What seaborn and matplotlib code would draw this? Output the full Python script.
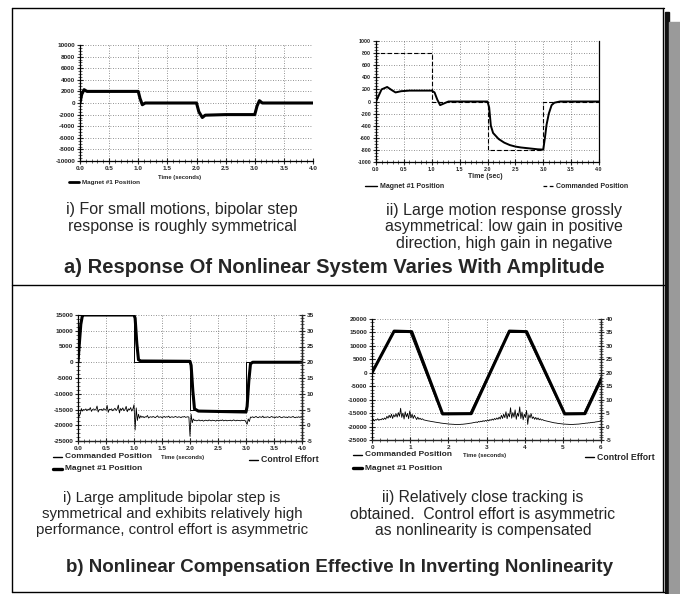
import numpy as np
import matplotlib
matplotlib.use("Agg")
import matplotlib.pyplot as plt
from matplotlib.lines import Line2D
from matplotlib.patches import Rectangle
from matplotlib.ticker import AutoMinorLocator
import seaborn as sns

sns.set_style("ticks")
plt.rcParams['font.family'] = ['Liberation Sans', 'DejaVu Sans']

W, H = 680, 594

# --- a) i) small bipolar step ---
t_small = [0, 0.03, 0.07, 0.12, 0.5, 1.0, 1.03, 1.07, 1.12, 1.5, 2.0, 2.04, 2.1, 2.15, 2.5, 3.0, 3.04, 3.08, 3.13, 3.5, 4.0]
pos_small = [0, 1500, 2300, 2000, 2000, 2000, 800, -300, 0, 0, 0, -1500, -2500, -2100, -2000, -2000, -500, 400, 0, 0, 0]

# --- a) ii) large motion ---
t_cmd_large = [0, 0, 1.0, 2.0, 3.0, 4.0]
cmd_large = [0, 800, 0, -800, 0, 0]
t_large = [0, 0.05, 0.1, 0.2, 0.28, 0.35, 0.45, 0.6, 1.0, 1.05, 1.1, 1.15, 1.2, 1.3,
           2.0, 2.03, 2.06, 2.1, 2.2, 2.3, 2.4, 2.5, 2.6, 2.7, 2.8, 2.9, 3.0,
           3.03, 3.06, 3.1, 3.15, 3.2, 3.3, 4.0]
pos_large = [0, 100, 200, 240, 190, 150, 170, 180, 180, 150, 30, -60, -40, 0,
             0, -100, -400, -520, -620, -680, -720, -745, -760, -770, -780, -790, -795,
             -600, -380, -200, -60, -20, 0, 0]

# --- b) i) compensated bipolar step ---
t_cmd_step = [0, 0, 1.0, 2.0, 3.0, 4.0]
cmd_step = [0, 15000, 0, -15000, 0, 0]
t_step = [0, 0.02, 0.05, 0.08, 0.1, 1.0, 1.02, 1.05, 1.08, 1.12, 2.0, 2.02, 2.05, 2.08, 2.15, 3.0, 3.02, 3.05, 3.08, 3.12, 4.0]
pos_step = [0, 5000, 12000, 15000, 15000, 15000, 14000, 6000, 800, 400, 300, -1000, -9000, -14800, -15500, -15800, -14000, -6000, -500, 0, 0]
effort_step = [4.0, 2.8, 3.6, 5.3, 4.5, 5.0, 4.8, 5.2, 4.6, 5.1, 4.9, 5.6, 4.4, 5.0, 5.2, 4.8, 5.0, 6.1, 4.2, 5.0,
               4.9, 5.1, 4.7, 5.3, 5.0, 4.8, 6.3, 4.1, 5.1, 4.9, 5.2, 4.6, 5.0, 5.4, 4.7, 5.1, 6.4, 3.9, 5.3, 4.8,
               5.5, 4.6, 5.0, 6.0, 4.3, 5.2, 4.9, 5.6, 4.5, 5.1,
               6.5, -1.5, 5.5, 1.5, 3.5, 2.2, 3.0,
               2.5, 2.8, 2.4, 2.7, 2.6, 3.1, 2.3, 2.6, 2.7, 2.5, 2.8, 2.6, 2.4, 2.7, 3.0, 2.5, 2.6, 2.7, 2.4, 2.6,
               2.8, 2.5, 2.7, 2.6, 2.9, 2.4, 2.6, 2.7, 2.5, 2.6, 2.8, 2.6, 2.5, 2.7, 2.6, 2.4, 2.7, 2.6, 2.8, 2.5,
               2.6, 2.7, 2.6,
               -3.5, 3.5, 0.8, 2.0,
               1.5, 1.6, 1.4, 1.5, 1.7, 1.4, 1.5, 1.6, 1.3, 1.5, 1.6, 1.5, 1.4, 1.7, 1.5, 1.4, 1.6, 1.5, 1.5, 1.3,
               1.6, 1.5, 1.4, 1.6, 1.5, 1.7, 1.4, 1.5, 1.6, 1.4, 1.5, 1.5, 1.6, 1.4, 1.5, 1.7, 1.5, 1.4, 1.6, 1.5,
               1.5, 1.4, 1.6, 1.5, 1.5, 1.6,
               1.0, 0.3, 2.0, 1.2, 2.6,
               2.5, 2.7, 2.4, 2.6, 2.8, 2.5, 2.4, 2.7, 2.6, 2.5, 2.9, 2.4, 2.6, 2.5, 2.7, 2.6, 2.4, 2.6, 2.8, 2.5,
               2.6, 2.4, 2.7, 2.5, 2.6, 2.8, 2.5, 2.4, 2.6, 2.7, 2.5, 2.6, 2.4, 2.7, 2.6, 2.5, 2.6, 2.8, 2.5, 2.4,
               2.6, 2.5, 2.7, 2.5, 2.6, 2.6]

# --- b) ii) trapezoid tracking ---
t_cmd_trap = [0, 0.55, 1.0, 1.82, 2.57, 3.57, 4.02, 5.02, 5.55, 6.0]
cmd_trap = [500, 15000, 15000, -15000, -15000, 15000, 15000, -15000, -15000, -1500]
t_trap = [0, 0.58, 1.04, 1.85, 2.6, 3.6, 4.05, 5.05, 5.58, 6.0]
pos_trap = [0, 15500, 15300, -15300, -15200, 15500, 15300, -15300, -15200, -2500]
effort_trap = [2.3, 2.8, 2.1, 2.6, 2.4, 2.9, 2.3, 2.7, 2.5, 3.0, 2.6,
               3.2, 2.7, 3.8, 3.1, 4.2, 3.3, 4.6, 3.0, 4.4, 3.6,
               4.8, 3.5, 5.2, 3.8, 6.8, 3.4, 5.0, 2.8, 5.5, 3.6, 4.9, 2.9, 5.8, 3.2, 4.6, 3.0, 4.2,
               3.4, 2.6, 3.5, 2.7, 3.1, 2.6, 2.9, 2.5,
               2.4, 2.3, 2.2, 2.1, 2.05, 1.95, 1.9, 1.8, 1.75, 1.65, 1.6, 1.5, 1.45, 1.4, 1.3, 1.25, 1.2, 1.15, 1.1, 1.05,
               1.0, 0.95, 0.9, 0.9, 0.85, 0.85, 0.8, 0.8, 0.8, 0.8, 0.8, 0.8, 0.85, 0.85, 0.9, 0.95, 1.0, 1.05, 1.1, 1.2,
               1.25, 1.3, 1.4, 1.5, 1.55,
               1.7, 1.5, 1.9, 1.7, 2.0, 1.8, 2.2, 1.9, 2.3, 2.0, 2.5, 2.1, 2.6, 2.3, 2.8, 2.4, 3.0, 2.6, 3.2, 2.7,
               3.5, 2.8, 4.2, 3.0, 4.6, 3.3, 5.5, 2.9, 4.8, 3.6, 7.0, 3.1, 5.2, 3.5, 6.2, 2.7, 5.0, 3.8, 7.3, 3.0,
               5.4, 2.5, 4.6, 3.4, 6.0, 0.8, 4.4, 3.2, 4.8, 3.0,
               3.6, 2.7, 3.4, 2.6, 3.2, 2.5, 2.9, 2.4, 2.6, 2.3,
               2.2, 2.1, 2.0, 1.9, 1.8, 1.7, 1.6, 1.5, 1.4, 1.35, 1.3, 1.2, 1.15, 1.1, 1.05, 1.0, 0.95, 0.9, 0.9, 0.85,
               0.85, 0.8, 0.8, 0.8, 0.8, 0.8, 0.85, 0.85, 0.9, 0.9, 0.95, 1.0, 1.05, 1.1, 1.15,
               1.2, 1.3, 1.25, 1.4, 1.35, 1.5, 1.45, 1.6, 1.55, 1.7, 1.75, 1.8, 1.9, 2.0, 2.3]

fig = plt.figure(figsize=(W / 100, H / 100), dpi=100)


def px_axes(left, top, right, bottom):
    return fig.add_axes([left / W, 1 - bottom / H, (right - left) / W, (bottom - top) / H])


def style(ax, xlim, xticks, xlabels, ylim, yticks, ylabels, size, right_spine=True):
    ax.set_xlim(xlim)
    ax.set_ylim(ylim)
    ax.set_xticks(xticks)
    ax.set_xticklabels(xlabels, fontsize=size, fontweight='bold')
    ax.set_yticks(yticks)
    ax.set_yticklabels(ylabels, fontsize=size, fontweight='bold')
    ax.xaxis.set_minor_locator(AutoMinorLocator(5))
    ax.yaxis.set_minor_locator(AutoMinorLocator(4))
    ax.tick_params(which='major', direction='inout', length=4, width=0.8, pad=1.5)
    ax.tick_params(which='minor', direction='inout', length=2.2, width=0.5)
    ax.grid(True, which='major', linestyle=(0, (1, 2)), color='#333333', linewidth=0.6, alpha=0.7)
    ax.set_axisbelow(True)
    ax.spines['top'].set_visible(False)
    ax.spines['right'].set_visible(right_spine)
    for s in ax.spines.values():
        s.set_linewidth(0.9)
        s.set_color('black')
    ax.set_xlabel('')
    ax.set_ylabel('')


def twin_style(axr, ylim, yticks, size):
    axr.set_ylim(ylim)
    axr.set_yticks(yticks)
    axr.set_yticklabels([str(v) for v in yticks], fontsize=size, fontweight='bold')
    axr.yaxis.set_minor_locator(AutoMinorLocator(5))
    axr.tick_params(which='major', direction='inout', length=4, width=0.8, pad=1.5)
    axr.tick_params(which='minor', direction='inout', length=2.2, width=0.5)
    axr.grid(False)
    axr.spines['top'].set_visible(False)
    axr.spines['left'].set_visible(False)
    axr.spines['right'].set_linewidth(0.9)
    axr.set_ylabel('')


def legend_item(x0, y0, text, lw=1.0, ls='-', size=4.5, seg=10):
    y = 1 - y0 / H
    fig.add_artist(Line2D([x0 / W, (x0 + seg) / W], [y, y], color='black', lw=lw, ls=ls))
    fig.text((x0 + seg + 3) / W, y, text, fontsize=size, fontweight='bold', va='center', ha='left')


def fig_text(xc, yc, s, size, weight='normal', ls=1.15):
    fig.text(xc / W, 1 - yc / H, s, fontsize=size, fontweight=weight, ha='center', va='center',
             linespacing=ls)


# a) i)
ax1 = px_axes(80, 45, 313, 161)
sns.lineplot(x=t_small, y=pos_small, ax=ax1, color='black', linewidth=2.2, estimator=None, sort=False)
yt = list(range(-10000, 10001, 2000))
xt = [i * 0.5 for i in range(9)]
style(ax1, (0, 4), xt, [f"{v:.1f}" for v in xt], (-10000, 10000), yt, [str(v) for v in yt], 4.6,
      right_spine=False)
ax1.axvline(4.0, color='#333333', linestyle=(0, (1, 2)), linewidth=0.6, alpha=0.7)
legend_item(69, 182, 'Magnet #1 Position', lw=2.0, size=4.6)
fig_text(180, 177, 'Time (seconds)', 4.2, 'bold')

# a) ii)
ax2 = px_axes(376, 41, 599, 162)
sns.lineplot(x=t_cmd_large, y=cmd_large, ax=ax2, color='black', linewidth=0.8, linestyle=(0, (4, 2)),
             drawstyle='steps-post', estimator=None, sort=False)
sns.lineplot(x=t_large, y=pos_large, ax=ax2, color='black', linewidth=1.4, estimator=None, sort=False)
yt = list(range(-1000, 1001, 200))
style(ax2, (0, 4), xt, [f"{v:.1f}" for v in xt], (-1000, 1000), yt, [str(v) for v in yt], 3.9)
legend_item(365, 186, 'Magnet #1 Position', lw=1.0, size=5, seg=12)
legend_item(543, 186, 'Commanded Position', lw=0.9, ls=(0, (3, 2)), size=5, seg=10)
fig_text(485, 176, 'Time (sec)', 5, 'bold')

# b) i)
ax3 = px_axes(78, 315, 302, 441)
sns.lineplot(x=t_cmd_step, y=cmd_step, ax=ax3, color='black', linewidth=0.7,
             drawstyle='steps-post', estimator=None, sort=False)
sns.lineplot(x=t_step, y=pos_step, ax=ax3, color='black', linewidth=2.2, estimator=None, sort=False)
yt = list(range(-25000, 15001, 5000))
style(ax3, (0, 4), xt, [f"{v:.1f}" for v in xt], (-25000, 15000), yt, [str(v) for v in yt], 4.6)
ax3r = ax3.twinx()
sns.lineplot(x=np.linspace(0, 4, len(effort_step)), y=effort_step, ax=ax3r, color='black',
             linewidth=0.6, estimator=None, sort=False)
twin_style(ax3r, (-5, 35), list(range(-5, 36, 5)), 4.6)
legend_item(53, 457, 'Commanded Position', lw=1.0, size=6, seg=9)
legend_item(53, 469, 'Magnet #1 Position', lw=2.4, size=6, seg=9)
fig_text(183, 458, 'Time (seconds)', 4.2, 'bold')
legend_item(249, 460, 'Control Effort', lw=1.0, size=6.3, seg=9)

# b) ii)
ax4 = px_axes(372, 319, 601, 440)
sns.lineplot(x=t_cmd_trap, y=cmd_trap, ax=ax4, color='black', linewidth=0.7, estimator=None, sort=False)
sns.lineplot(x=t_trap, y=pos_trap, ax=ax4, color='black', linewidth=2.2, estimator=None, sort=False)
yt = list(range(-25000, 20001, 5000))
xt4 = list(range(7))
style(ax4, (0, 6), xt4, [str(v) for v in xt4], (-25000, 20000), yt, [str(v) for v in yt], 4.6)
ax4r = ax4.twinx()
sns.lineplot(x=np.linspace(0, 6, len(effort_trap)), y=effort_trap, ax=ax4r, color='black',
             linewidth=0.6, estimator=None, sort=False)
twin_style(ax4r, (-5, 40), list(range(-5, 41, 5)), 4.6)
legend_item(353, 455, 'Commanded Position', lw=1.0, size=6, seg=9)
legend_item(353, 468, 'Magnet #1 Position', lw=2.4, size=6, seg=9)
fig_text(485, 456, 'Time (seconds)', 4.2, 'bold')
legend_item(585, 457, 'Control Effort', lw=1.0, size=6.3, seg=9)

# captions
fig_text(182, 218, 'i) For small motions, bipolar step\nresponse is roughly symmetrical', 11.5)
fig_text(504, 227, 'ii) Large motion response grossly\nasymmetrical: low gain in positive\n'
                   'direction, high gain in negative', 11.5)
fig_text(334, 268, 'a) Response Of Nonlinear System Varies With Amplitude', 14.5, 'bold')
fig_text(172, 514, 'i) Large amplitude bipolar step is\nsymmetrical and exhibits relatively high\n'
                   'performance, control effort is asymmetric', 10.8)
fig_text(483, 514, 'ii) Relatively close tracking is\nobtained.  Control effort is asymmetric\n'
                   'as nonlinearity is compensated', 11.3)
fig_text(340, 568, 'b) Nonlinear Compensation Effective In Inverting Nonlinearity', 13.5, 'bold')


# page frame
def hline(y, x0, x1, lw=1.0):
    fig.add_artist(Line2D([x0 / W, x1 / W], [1 - y / H] * 2, color='black', lw=lw))


def vline(x, y0, y1, lw=1.0):
    fig.add_artist(Line2D([x / W] * 2, [1 - y0 / H, 1 - y1 / H], color='black', lw=lw))


hline(8, 12, 664)
hline(285, 12, 664)
hline(592, 12, 664)
vline(12, 8, 592)
vline(663, 8, 592)
fig.add_artist(Rectangle((665 / W, 0), 4 / W, 1 - 12 / H, transform=fig.transFigure, color='#111111'))
fig.add_artist(Rectangle((669 / W, 0), 11 / W, 1 - 22 / H, transform=fig.transFigure, color='#9a9a9a'))

fig.savefig('out.png', dpi=100)
